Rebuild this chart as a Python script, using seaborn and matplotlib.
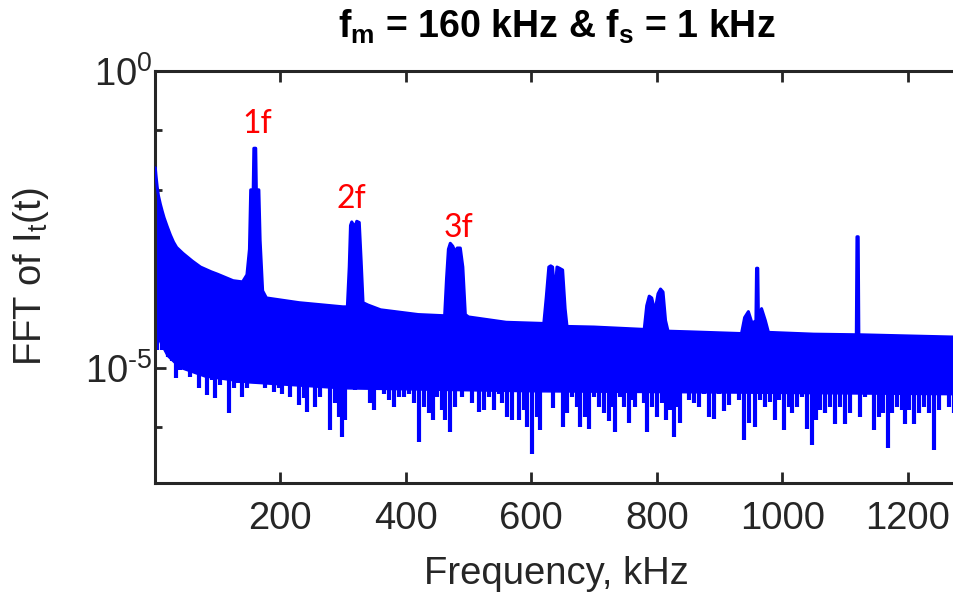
import numpy as np
import pandas as pd
import matplotlib
matplotlib.use("Agg")
import matplotlib.pyplot as plt
import seaborn as sns
from matplotlib.ticker import FixedLocator, NullFormatter, NullLocator

# ---------------- data (log10 of FFT magnitude) ----------------
# upper envelope of the spectrum
env_f = [1, 2, 4, 6, 9, 12, 15, 20, 25, 30, 35, 45, 60, 73, 90, 100, 125, 140, 147, 151, 153,
         157, 158, 161, 162, 166, 168, 172, 178, 230, 300, 307, 310, 312, 314, 317, 319, 322,
         326, 329, 332, 340, 360, 420, 462, 465, 468, 471, 475, 479, 482, 487, 491, 495, 500,
         560, 620, 624, 628, 631, 634, 637, 638, 641, 645, 650, 654, 657, 700, 780, 784, 788,
         792, 797, 802, 806, 810, 814, 818, 850, 935, 940, 946, 952, 958, 959, 961, 962, 967,
         973, 978, 1050, 1118, 1119, 1121, 1122, 1200, 1280]
env_top = [-1.63, -1.75, -1.95, -2.1, -2.24, -2.36, -2.47, -2.62, -2.76, -2.88, -2.97, -3.07,
           -3.2, -3.3, -3.38, -3.42, -3.53, -3.55, -3.43, -3.0, -2.0, -2.0, -1.30, -1.30,
           -2.0, -2.0, -2.85, -3.7, -3.82, -3.9, -3.97, -3.97, -3.3, -2.6, -2.54, -2.6, -2.62,
           -2.53, -2.55, -3.2, -3.9, -3.94, -4.02, -4.1, -4.12, -3.5, -3.0, -2.9, -2.95,
           -3.05, -2.98, -2.98, -3.3, -4.1, -4.14, -4.23, -4.25, -3.8, -3.3, -3.28, -3.3,
           -3.7, -3.7, -3.3, -3.32, -3.35, -4.0, -4.3, -4.31, -4.35, -3.95, -3.79, -3.82,
           -4.05, -3.75, -3.67, -3.72, -4.2, -4.38, -4.39, -4.42, -4.15, -4.05, -4.25, -4.2,
           -3.32, -3.32, -4.15, -4.0, -4.2, -4.4, -4.43, -4.44, -2.79, -2.79, -4.44, -4.46,
           -4.48]

# lower edge of the dense (solid) part of the band
base_f = [1, 10, 20, 40, 80, 150, 300, 600, 900, 1280]
base_low = [-4.4, -4.6, -4.8, -5.0, -5.15, -5.25, -5.35, -5.4, -5.42, -5.45]

# downward noise spikes
dip_f = [3.5, 11.4, 16.7, 22, 27.4, 34.3, 40.6, 48.6, 56.6, 64.5, 69.9, 77.8, 83.1, 91.1, 96.4,
         104.4, 108.6, 118.7, 125.6, 132, 138.9, 146.9, 161.8, 168.1, 176.1, 184, 189.4, 197.3,
         202.7, 210.6, 215.9, 222.3, 229.2, 237.2, 242.5, 247.8, 255.8, 263.7, 271.7, 279.7,
         287.6, 293, 298.3, 303.6, 319.5, 330.2, 343.4, 348.8, 356.7, 364.7, 372.7, 380.6,
         388.6, 396.6, 404.5, 412.5, 421.5, 428.4, 436.4, 442.8, 449.7, 457.7, 463, 470.9,
         478.9, 489.5, 497.5, 505.5, 516.1, 524.1, 532, 540, 548, 553.3, 561.2, 569.2, 579.8,
         587.8, 593.1, 601, 609, 614, 622, 634.5, 641, 650.4, 656.8, 664.8, 672.7, 678, 686,
         691.3, 699.3, 707.3, 715.2, 723.2, 728.5, 733.8, 741.8, 747.1, 755, 760.4, 765.7, 771,
         779, 784.3, 792.3, 800.2, 808.2, 815.1, 821.5, 826.8, 832.1, 837.4, 850.7, 858.7,
         866.6, 874.6, 882.6, 890.5, 898.5, 906.5, 914.4, 922.4, 930.4, 939.4, 946.3, 957,
         964.9, 972.9, 980.8, 987.7, 994.1, 1002.1, 1010, 1015.4, 1023.3, 1031.3, 1039.3,
         1047.2, 1053.6, 1060.5, 1068.5, 1076.5, 1084.4, 1092.4, 1099.3, 1108.3, 1124.3,
         1132.2, 1138.6, 1145.5, 1153.5, 1159.9, 1168.4, 1174.7, 1182.7, 1190.7, 1196, 1201.3,
         1209.3, 1217.2, 1225.2, 1233.2, 1242.2, 1249.1, 1257.1, 1265, 1273]
dip_low = [-4.39, -4.56, -4.58, -4.81, -4.89, -5.17, -5.03, -5.03, -5.15, -5.09, -5.34, -5.09,
           -5.45, -5.2, -5.51, -5.29, -5.09, -5.76, -5.34, -5.26, -5.48, -5.34, -5.03, -5.17,
           -5.34, -5.15, -5.40, -5.34, -5.43, -5.23, -5.48, -5.29, -5.62, -5.51, -5.74, -5.2,
           -5.65, -5.48, -5.17, -6.04, -5.59, -5.82, -6.16, -5.88, -5.37, -5.32, -5.59, -5.71,
           -5.09, -5.43, -5.54, -5.65, -5.48, -5.48, -5.43, -5.59, -6.24, -5.65, -5.76, -5.88,
           -5.48, -5.71, -5.88, -6.07, -5.65, -5.48, -5.32, -5.59, -5.74, -5.71, -5.48, -5.71,
           -5.43, -5.59, -5.82, -5.88, -5.88, -5.71, -5.99, -6.44, -5.82, -6.04, -5.37, -5.68,
           -5.26, -5.99, -5.76, -5.48, -5.65, -5.99, -5.82, -6.02, -5.48, -5.65, -5.76, -5.90,
           -5.65, -6.07, -5.48, -5.65, -5.93, -5.54, -5.65, -5.37, -5.59, -6.07, -5.65, -5.82,
           -5.59, -5.88, -5.71, -6.16, -5.65, -5.93, -5.54, -5.59, -5.65, -5.43, -5.82, -5.85,
           -5.43, -5.73, -5.62, -5.37, -5.54, -6.21, -5.93, -5.99, -5.54, -5.65, -5.57, -5.88,
           -5.54, -6.05, -5.65, -5.76, -5.65, -5.48, -6.02, -6.30, -5.88, -5.71, -5.76, -5.65,
           -5.94, -5.65, -5.94, -5.76, -5.82, -5.48, -5.37, -6.05, -5.82, -5.76, -6.35, -5.76,
           -5.65, -5.71, -5.94, -5.71, -5.94, -5.76, -5.65, -5.76, -6.38, -5.71, -5.37, -5.65,
           -5.76]

harm_labels = ["1f", "2f", "3f"]
harm_f = [164, 313, 484]
harm_log = [-1.044, -2.31, -2.79]

xticks = [200, 400, 600, 800, 1000, 1200]
yticks_major = [1e-5, 1e0]
yticks_major_labels = ["$10^{\u20105}$", r"$10^{0}$"]
yticks_minor = [1e-7, 1e-6, 1e-4, 1e-3, 1e-2, 1e-1]

# ---------------- style ----------------
sns.set_theme(style="ticks")
plt.rcParams["font.family"] = ["Liberation Sans", "DejaVu Sans"]
plt.rcParams["mathtext.fontset"] = "custom"
plt.rcParams["mathtext.rm"] = "Liberation Sans"
plt.rcParams["mathtext.it"] = "Liberation Sans"
plt.rcParams["mathtext.bf"] = "Liberation Sans:bold"
plt.rcParams["mathtext.default"] = "regular"

AX_COL = "#262626"
BLUE = "#0000FF"

fig = plt.figure(figsize=(9.54, 5.94), dpi=100)
ax = fig.add_axes([155 / 954, 1 - 483 / 594, (958 - 155) / 954, (483 - 71) / 594])
ax.set_yscale("log")

env = pd.DataFrame({"f": env_f, "v": np.power(10.0, env_top)})
base = pd.DataFrame({"f": base_f, "v": np.power(10.0, base_low)})
dips = pd.DataFrame({"f": dip_f, "v": np.power(10.0, dip_low)})

# dense band (upper envelope down to the solid lower edge)
ax.fill(np.concatenate([env["f"].values, base["f"].values[::-1]]),
        np.concatenate([env["v"].values, base["v"].values[::-1]]),
        color=BLUE, lw=1.0, zorder=2)
# downward noise spikes
ax.vlines(dips["f"], dips["v"], 2.0e-5, color=BLUE, lw=3.0, zorder=2)
# upper edge line
sns.lineplot(data=env, x="f", y="v", ax=ax, color=BLUE, lw=2.2, estimator=None,
             sort=False, zorder=3)

ax.set_xlim(0.5, 1280)
ax.set_ylim(1.16e-7, 1.0)

ax.set_xticks(xticks)
ax.set_xticklabels([str(t) for t in xticks])
ax.xaxis.set_minor_locator(NullLocator())
ax.yaxis.set_major_locator(FixedLocator(yticks_major))
ax.set_yticklabels(yticks_major_labels)
ax.yaxis.set_minor_locator(FixedLocator(yticks_minor))
ax.yaxis.set_minor_formatter(NullFormatter())

ax.tick_params(axis="both", which="major", direction="in", length=8, width=2,
               colors=AX_COL, labelsize=27.5, top=True, right=False)
ax.tick_params(axis="y", which="major", pad=2)
ax.tick_params(axis="x", which="major", pad=13)
ax.tick_params(axis="y", which="minor", direction="in", length=5, width=2,
               colors=AX_COL, right=False)
for s in ax.spines.values():
    s.set_color(AX_COL)
    s.set_linewidth(2.2)

ax.set_xlabel("Frequency, kHz", fontsize=27.5, color=AX_COL, labelpad=14)
ax.set_ylabel(r"FFT of I$_t$(t)", fontsize=27.5, color=AX_COL, labelpad=24)

fig.text(557 / 954, 1 - 38 / 594, r"$\mathbf{f_m}$ = 160 kHz & $\mathbf{f_s}$ = 1 kHz",
         ha="center", va="baseline", fontsize=27, fontweight="bold", color="black")

for lab, f, lv in zip(harm_labels, harm_f, harm_log):
    ax.text(f, 10.0 ** lv, lab, color="red", fontsize=23, ha="center", va="baseline",
            family=["Lato", "DejaVu Sans"], zorder=4)

fig.savefig("out.png", dpi=100)
